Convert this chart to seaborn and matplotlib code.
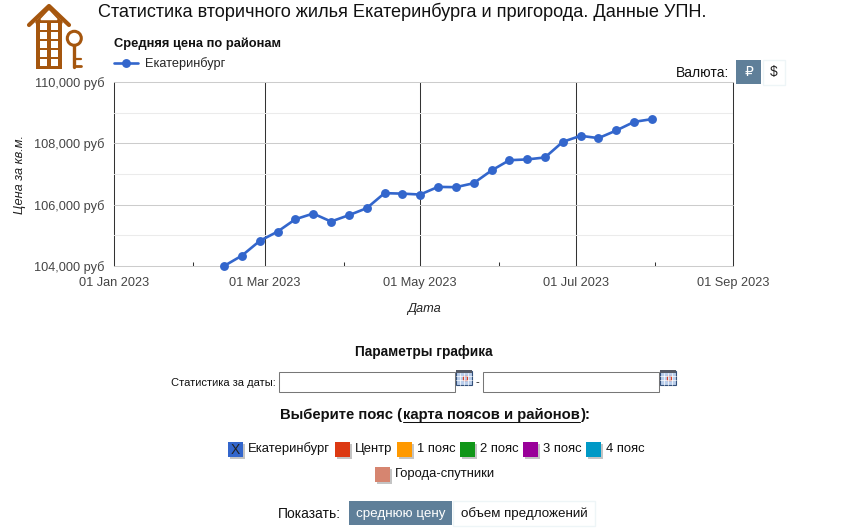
import matplotlib
matplotlib.use('Agg')
import matplotlib.pyplot as plt
import matplotlib.dates as mdates
from matplotlib.patches import Rectangle, Circle
from matplotlib.ticker import FuncFormatter, MultipleLocator
import pandas as pd
import seaborn as sns

# weekly values
first_date = '2023-02-13'
prices = [104000, 104337, 104817, 105120, 105525, 105710, 105450, 105657, 105885,
          106375, 106360, 106330, 106580, 106570, 106700, 107115, 107450, 107475,
          107540, 108050, 108245, 108170, 108420, 108700, 108790]
series_name = 'Екатеринбург'
belts = ['Центр', '1 пояс', '2 пояс', '3 пояс', '4 пояс']
belt_colors = ['#dc3912', '#ff9900', '#109618', '#990099', '#0099c6']
belt_x = [335, 397, 460, 523, 586]

sns.set_theme(style='white')
plt.rcParams['font.family'] = ['Liberation Sans', 'DejaVu Sans']

W, H = 849, 530
fig = plt.figure(figsize=(W / 100, H / 100), dpi=100, facecolor='white')
ax = fig.add_axes([114.5 / W, (H - 266) / H, 619 / W, 184 / H])

df = pd.DataFrame({'date': pd.date_range(first_date, periods=len(prices), freq='7D'),
                   'price': prices})
sns.lineplot(data=df, x='date', y='price', ax=ax, color='#3366cc', linewidth=1.9,
             marker='o', markersize=6.4, markeredgewidth=0, label=series_name, clip_on=False,
             zorder=5)

ax.set_xlim(pd.Timestamp('2023-01-01'), pd.Timestamp('2023-09-01'))
ax.set_ylim(104000, 110000)
ax.xaxis.set_major_locator(mdates.MonthLocator(bymonth=[1, 3, 5, 7, 9]))
ax.xaxis.set_minor_locator(mdates.MonthLocator(bymonth=[2, 4, 6, 8]))
ax.xaxis.set_major_formatter(mdates.DateFormatter('%d %b %Y'))
ax.yaxis.set_major_locator(MultipleLocator(2000))
ax.yaxis.set_minor_locator(MultipleLocator(1000))
ax.yaxis.set_major_formatter(FuncFormatter(lambda v, p: f'{v:,.0f} руб'))
ax.grid(True, which='major', axis='y', color='#cccccc', linewidth=0.75)
ax.grid(True, which='minor', axis='y', color='#ebebeb', linewidth=0.75)
ax.grid(True, which='major', axis='x', color='#333333', linewidth=0.75)
ax.set_axisbelow(True)
# the edge lines fall on the axes limits, keep them from being clipped away
for line in ax.xaxis.get_gridlines() + ax.yaxis.get_gridlines():
    line.set_clip_on(False)
for s in ax.spines.values():
    s.set_visible(False)
ax.tick_params(axis='x', which='major', length=0, pad=8, labelsize=9.2, labelcolor='#444444')
ax.tick_params(axis='x', which='minor', length=3, width=0.75, direction='in', color='#333333',
               bottom=True)
ax.tick_params(axis='y', which='both', length=0, pad=7.5, labelsize=9.2, labelcolor='#444444')
ax.set_xlabel('Дата', fontsize=9.2, style='italic', color='#222222', labelpad=10)
ax.set_ylabel('Цена за кв.м.', fontsize=9.2, style='italic', color='#222222')
ax.yaxis.set_label_coords(-88 / 619, 0.497)
ax.legend(loc='lower left', bbox_to_anchor=(-0.0005, 1.064), frameon=False, fontsize=9.2,
          handlelength=1.88, handletextpad=0.55, borderpad=0, borderaxespad=0)
ax.text(0, 1.21, 'Средняя цена по районам', transform=ax.transAxes, fontsize=9.25,
        fontweight='bold', color='#111111', va='center')

# page furniture around the chart, in pixel coordinates
pg = fig.add_axes([0, 0, 1, 1], zorder=-1)
pg.set_xlim(0, W)
pg.set_ylim(H, 0)
pg.axis('off')

pg.text(98, 12, 'Статистика вторичного жилья Екатеринбурга и пригорода. Данные УПН.',
        fontsize=13.1, va='center', color='#111111')

# logo
brown = '#a5560e'
pg.plot([29, 49, 69], [25, 6, 25], color=brown, lw=3, solid_capstyle='round')
pg.add_patch(Rectangle((36, 20), 26, 49, fc=brown, ec='none'))
pg.fill([36, 49, 62, 62, 36], [22, 9, 22, 23, 23], color=brown)
pg.fill([41, 49, 57], [19.5, 11, 19.5], color='white')
for cx in [40.5, 50.8]:
    for cy in [23, 32, 41, 50, 59.3]:
        pg.add_patch(Rectangle((cx, cy), 6.8, 7, fc='white', ec='none'))
pg.add_patch(Circle((74.3, 38.3), 7, fc='none', ec=brown, lw=2.2))
pg.plot([74, 74], [45, 67], color=brown, lw=2.4)
pg.plot([74, 81.5], [59, 59], color=brown, lw=1.6)
pg.plot([74, 81.5], [66, 66], color=brown, lw=2)

# currency switch
pg.text(729, 73, 'Валюта:', fontsize=10, ha='right', va='center', color='#111111')
pg.add_patch(Rectangle((736, 60), 25, 24, fc='#5f7f99', ec='none'))
pg.add_patch(Rectangle((763, 60), 22, 25, fc='white', ec='#eef5f7', lw=1))
pg.text(748.5, 72, '₽', fontsize=10, ha='center', va='center', color='white',
        family='DejaVu Sans')
pg.text(774, 72, '$', fontsize=10, ha='center', va='center', color='#222222')

# parameters form
pg.text(424, 352, 'Параметры графика', fontsize=9.85, fontweight='bold', ha='center',
        va='center', color='#111111')
pg.text(276, 383, 'Статистика за даты:', fontsize=8, ha='right', va='center', color='#111111')
for x0, x1 in [(279.5, 455.5), (483.5, 659.5)]:
    pg.add_patch(Rectangle((x0, 371.5), x1 - x0, 20, fc='white', ec='#777777', lw=0.75))
pg.text(477, 382, '-', fontsize=8, ha='center', va='center', color='#111111')
for cx in [456, 660]:
    pg.add_patch(Rectangle((cx, 371), 16, 14, fc='#b9cdea', ec='#34507a', lw=0.8))
    pg.add_patch(Rectangle((cx, 370), 16, 3, fc='#555a66', ec='none'))
    for gx in [4, 8, 12]:
        pg.plot([cx + gx, cx + gx], [373, 385], color='white', lw=0.5)
    for gy in [376, 380]:
        pg.plot([cx, cx + 16], [gy, gy], color='white', lw=0.5)
    pg.add_patch(Rectangle((cx + 7, 376), 4, 4, fc='none', ec='#d8402a', lw=0.9))

# belt picker
pg.text(280, 415, 'Выберите пояс (', fontsize=10.7, fontweight='bold', va='center',
        color='#111111')
pg.text(403, 415, 'карта поясов и районов', fontsize=10.7, fontweight='bold', va='center',
        color='#111111')
pg.plot([403, 580], [421.5, 421.5], color='#111111', lw=0.75)
pg.text(581, 415, '):', fontsize=10.7, fontweight='bold', va='center', color='#111111')


def swatch(x, y, color):
    pg.add_patch(Rectangle((x + 2, y + 2), 15, 15, fc='#c4c4c4', ec='none'))
    pg.add_patch(Rectangle((x, y), 15, 15, fc=color, ec='none'))


swatch(228, 442, '#3366cc')
pg.text(235.5, 450, 'X', fontsize=10, ha='center', va='center', color='#222222')
pg.text(248, 452, series_name, fontsize=9.4, va='baseline', color='#111111')
for name, color, x in zip(belts, belt_colors, belt_x):
    swatch(x, 442, color)
    pg.text(x + 20, 452, name, fontsize=9.4, va='baseline', color='#111111')
swatch(375, 467, '#d68570')
pg.text(395, 477, 'Города-спутники', fontsize=9.4, va='baseline', color='#111111')

# metric switch
pg.text(341, 514, 'Показать:', fontsize=10, ha='right', va='center', color='#111111')
pg.add_patch(Rectangle((349, 501), 103, 24, fc='#5f7f99', ec='none'))
pg.text(400.5, 514, 'среднюю цену', fontsize=9.6, ha='center', va='center', color='white')
pg.add_patch(Rectangle((453, 500.5), 142, 25, fc='white', ec='#eef5f7', lw=1))
pg.text(524, 514, 'объем предложений', fontsize=9.6, ha='center', va='center', color='#111111')

fig.savefig('out.png', dpi=100)
